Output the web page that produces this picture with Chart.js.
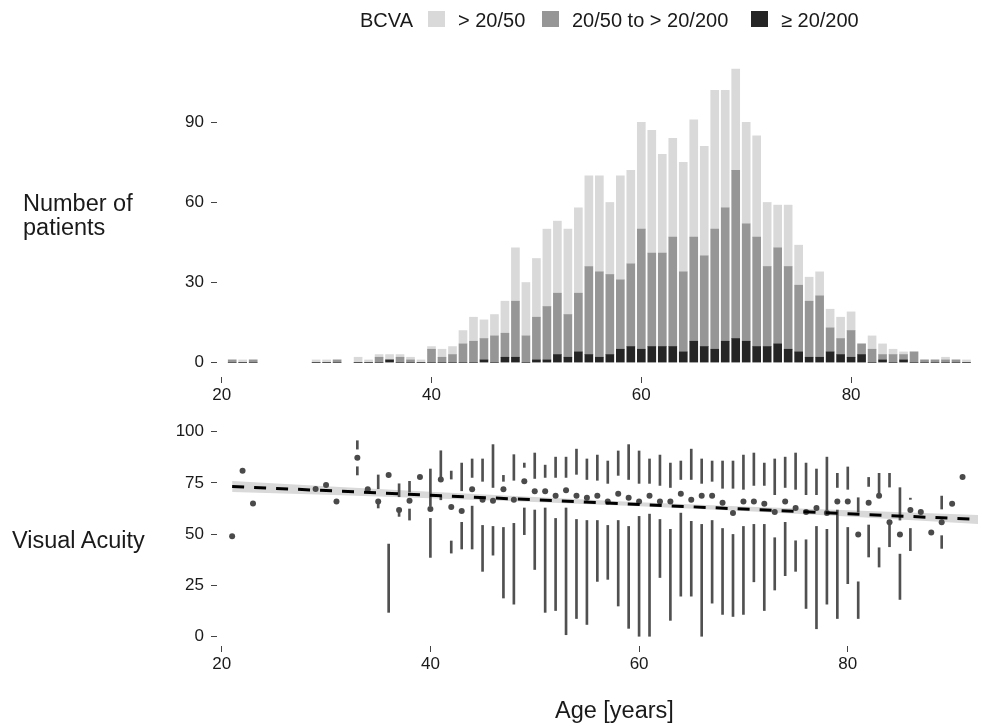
<!DOCTYPE html>
<html>
<head>
<meta charset="utf-8">
<script src="https://cdn.jsdelivr.net/npm/chart.js@4.4.0/dist/chart.umd.min.js"></script>
<style>
  body { margin: 0; background: #fff; }
  #wrap { position: relative; width: 982px; height: 726px; overflow: hidden; font-family: "Liberation Sans", Arial, Helvetica, sans-serif; color: #1a1a1a; }
  canvas { position: absolute; left: 0; }
  .lbl { position: absolute; white-space: nowrap; }
  .title { font-size: 23.5px; line-height: 24px; }
  .leg { font-size: 20px; line-height: 20px; top: 10px; }
  .sq { position: absolute; top: 11px; width: 17px; height: 16px; }
</style>
</head>
<body>
<div id="wrap">
  <canvas id="top" width="982" height="410" style="top:0"></canvas>
  <canvas id="bottom" width="982" height="316" style="top:410px"></canvas>

  <div class="lbl leg" style="left:360px">BCVA</div>
  <div class="sq" style="left:428px; background:#d9d9d9"></div>
  <div class="lbl leg" style="left:458px">&gt; 20/50</div>
  <div class="sq" style="left:542px; background:#969696"></div>
  <div class="lbl leg" style="left:572px">20/50 to &gt; 20/200</div>
  <div class="sq" style="left:751px; background:#252525"></div>
  <div class="lbl leg" style="left:781px">≥ 20/200</div>

  <div class="lbl title" style="left:23px; top:191px">Number of<br>patients</div>
  <div class="lbl title" style="left:12px; top:528px">Visual Acuity</div>
  <div class="lbl title" style="left:555px; top:698px">Age [years]</div>
</div>

<script>
// ages present in the data (no patients aged 24-28 or 32)
const ages = [21, 22, 23, 29, 30, 31,
  33, 34, 35, 36, 37, 38, 39, 40, 41, 42, 43, 44, 45, 46, 47, 48, 49, 50, 51, 52,
  53, 54, 55, 56, 57, 58, 59, 60, 61, 62, 63, 64, 65, 66, 67, 68, 69, 70, 71, 72,
  73, 74, 75, 76, 77, 78, 79, 80, 81, 82, 83, 84, 85, 86, 87, 88, 89, 90, 91];

// number of patients per BCVA group
const countPoor = [0, 0, 0, 0, 0, 0,
  0, 0, 0, 1, 0, 0, 0, 0, 0, 0, 0, 0, 1, 0, 2, 2, 0, 1, 1, 3,
  2, 4, 3, 2, 3, 5, 6, 5, 6, 6, 6, 4, 8, 6, 5, 8, 9, 8, 6, 6,
  7, 5, 4, 2, 2, 4, 3, 2, 3, 0, 1, 0, 1, 0, 0, 0, 0, 0, 0];
const countMid = [1, 0, 1, 0, 0, 1,
  0, 0, 2, 0, 2, 1, 0, 5, 2, 3, 7, 8, 8, 10, 9, 21, 10, 16, 20, 23,
  16, 22, 33, 32, 30, 26, 31, 45, 35, 35, 41, 30, 39, 34, 45, 50, 63, 44, 41, 30,
  36, 31, 25, 21, 23, 9, 6, 10, 4, 5, 2, 3, 2, 4, 1, 1, 1, 1, 0];
const countGood = [0, 1, 0, 1, 1, 0,
  2, 1, 1, 2, 1, 1, 1, 1, 3, 3, 5, 9, 7, 8, 12, 20, 20, 22, 29, 27,
  32, 32, 34, 36, 27, 39, 35, 40, 46, 37, 37, 41, 44, 41, 52, 44, 38, 38, 38, 24,
  16, 23, 15, 9, 9, 7, 8, 7, 0, 5, 4, 2, 1, 0, 0, 0, 1, 0, 1];

// visual acuity per age: median, [q3, max] and [min, q1]
const vaMedian = [49, 81, 65, 72, 74, 66,
  87.3, 71.9, 65.9, 78.9, 61.8, 66.3, 77.9, 62.3, 76.7, 63.3, 61.3, 71.9, 66.8, 66.3,
  71.9, 66.8, 75.8, 70.9, 70.9, 68.8, 71.4, 68.8, 67.8, 68.8, 65.9, 69.8, 67.8, 65.9,
  68.8, 65.9, 65.9, 69.8, 66.8, 68.8, 68.8, 65.4, 60.3, 65.9, 65.9, 64.9, 60.8, 65.9,
  62.8, 60.8, 62.8, 60.3, 65.9, 65.9, 49.9, 65.4, 68.8, 55.9, 49.9, 61.8, 60.8, 50.9,
  55.9, 64.9, 77.9];
const vaUpper = [null, null, null, null, null, null,
  [91.5, 95.6], null, [72.2, 78.9], null, [68.3, 74.6], [70.6, 75.8], null,
  [63.9, 81.8], [77.7, 90.7], [76.9, 80.8], [71.2, 84.7], [77.7, 86.7], [75.8, 86.7],
  [72.8, 93.7], [75.8, 78.7], [76.3, 88.8], [82.6, 84.7], [77.2, 89.6], [77.7, 83.7],
  [77.7, 87.6], [77.7, 87.6], [79.2, 91.5], [76.7, 86.7], [76.3, 88.6], [74.8, 85.7],
  [78.7, 90.6], [76.7, 93.7], [74.8, 90.6], [74.8, 86.7], [73.8, 88.6], [72.8, 84.7],
  [76.7, 85.7], [76.7, 91.5], [74.8, 86.7], [75.8, 85.7], [72.4, 85.7], [72.4, 85.7],
  [71.9, 88.6], [73.8, 89.6], [73.8, 84.7], [69.3, 86.7], [72.8, 87.6], [71.9, 89.6],
  [69.3, 84.7], [69.3, 81.8], [61.8, 87.6], [72.8, 79.7], [71.9, 82.8], [60.8, 67.8],
  [73.3, 77.7], [69.9, 79.7], [73.0, 79.7], [56.9, 72.7], [67.0, 67.6], null, null,
  [62.3, 68.6], null, null];
const vaLower = [null, null, null, null, null, null,
  [78.9, 82.9], null, [62.8, 64.7], [11.9, 45.2], [58.7, 60.8], [56.9, 62.3], null,
  [38.7, 57.7], [66.8, 68.8], [40.8, 46.7], [42.8, 55.8], [42.8, 63.7], [31.9, 54.3],
  [39.8, 53.8], [18.9, 53.3], [15.9, 55.3], [49.8, 62.8], [32.8, 61.8], [11.9, 62.8],
  [12.8, 57.7], [1.0, 62.8], [8.9, 57.2], [6.0, 56.7], [27.0, 56.7], [28.0, 54.3],
  [15.0, 56.7], [4.1, 53.8], [0, 58.7], [0, 59.8], [28.9, 57.2], [8.0, 52.4],
  [19.8, 60.3], [19.8, 56.3], [0, 54.8], [16.4, 56.7], [10.9, 52.8], [9.9, 49.9],
  [10.9, 53.8], [26.8, 54.8], [12.8, 54.8], [22.8, 48.3], [29.8, 55.8], [31.9, 46.8],
  [13.8, 47.3], [3.9, 53.8], [15.9, 52.4], [8.9, 61.8], [25.9, 53.3], [8.9, 26.8],
  [38.9, 54.5], [34.0, 43.4], [43.9, 54.5], [18.2, 40.3], [42.0, 52.8], null, null,
  [43.1, 49.3], null, null];

// linear fit with its confidence band, read at a few ages
const fitAges = [21, 92.5];
const fitValues = [73.3, 57.2];
const bandAges = [21, 30, 40, 50, 60, 70, 80, 92.5];
const bandLow = [70.6, 69.2, 67.5, 65.7, 63.6, 61.3, 58.7, 55.0];
const bandHigh = [76.0, 73.4, 70.7, 68.1, 65.6, 63.5, 61.7, 59.4];

const xTicks = [20, 40, 60, 80];
const countTicks = [0, 30, 60, 90];
const vaTicks = [0, 25, 50, 75, 100];

const X_MIN = 19.55, X_MAX = 92.48;
const FONT = { family: '"Liberation Sans", Arial, Helvetica, sans-serif', size: 17 };

function xAxis(height) {
  return {
    type: 'linear', min: X_MIN, max: X_MAX, offset: false,
    grid: { drawOnChartArea: false, drawTicks: true, tickLength: 6, color: '#444', offset: false },
    border: { display: false },
    ticks: { font: FONT, color: '#1a1a1a', padding: 2, maxRotation: 0 },
    afterBuildTicks: s => { s.ticks = xTicks.map(v => ({ value: v })); },
    afterFit: s => { s.height = height; }
  };
}
function yAxis(min, max, ticks) {
  return {
    min: min, max: max,
    grid: { drawOnChartArea: false, drawTicks: true, tickLength: 6, color: '#444' },
    border: { display: false },
    ticks: { font: FONT, color: '#1a1a1a', padding: 7 },
    afterBuildTicks: s => { s.ticks = ticks.map(v => ({ value: v })); },
    afterFit: s => { s.width = 217; }
  };
}
const pts = arr => ages.map((a, i) => ({ x: a, y: arr[i] }));
const ranges = arr => ages.map((a, i) => arr[i] ? { x: a, y: arr[i] } : null).filter(Boolean);

new Chart(document.getElementById('top'), {
  type: 'bar',
  data: {
    datasets: [
      { label: '≥ 20/200', data: pts(countPoor), backgroundColor: '#252525' },
      { label: '20/50 to > 20/200', data: pts(countMid), backgroundColor: '#969696' },
      { label: '> 20/50', data: pts(countGood), backgroundColor: '#d9d9d9' }
    ]
  },
  options: {
    responsive: false,
    animation: false,
    layout: { padding: { top: 53, left: 0, right: 0, bottom: 0 } },
    datasets: { bar: { barThickness: 8, borderWidth: 0 } },
    plugins: { legend: { display: false }, tooltip: { enabled: false } },
    scales: {
      x: Object.assign(xAxis(33), { stacked: true }),
      y: Object.assign(yAxis(-5.4, 116, countTicks), { stacked: true })
    }
  }
});

new Chart(document.getElementById('bottom'), {
  type: 'bar',
  data: {
    datasets: [
      { type: 'line', data: bandAges.map((a, i) => ({ x: a, y: bandLow[i] })),
        borderWidth: 0, pointRadius: 0, fill: false, order: 5 },
      { type: 'line', data: bandAges.map((a, i) => ({ x: a, y: bandHigh[i] })),
        borderWidth: 0, pointRadius: 0, fill: '-1', backgroundColor: '#d9d9d9', order: 5 },
      { type: 'bar', data: ranges(vaUpper), backgroundColor: '#505050',
        barThickness: 2, grouped: false, order: 3 },
      { type: 'bar', data: ranges(vaLower), backgroundColor: '#505050',
        barThickness: 2, grouped: false, order: 3 },
      { type: 'scatter', data: pts(vaMedian), backgroundColor: '#4a4a4a',
        pointRadius: 3, borderWidth: 0, order: 2 },
      { type: 'line', data: fitAges.map((a, i) => ({ x: a, y: fitValues[i] })),
        borderColor: '#000', borderWidth: 3, borderDash: [12, 10], pointRadius: 0,
        fill: false, order: 1 }
    ]
  },
  options: {
    responsive: false,
    animation: false,
    layout: { padding: { top: 18, left: 0, right: 0, bottom: 0 } },
    plugins: { legend: { display: false }, tooltip: { enabled: false } },
    scales: {
      x: xAxis(80),
      y: yAxis(-4.5, 101.8, vaTicks)
    }
  }
});
</script>
</body>
</html>
